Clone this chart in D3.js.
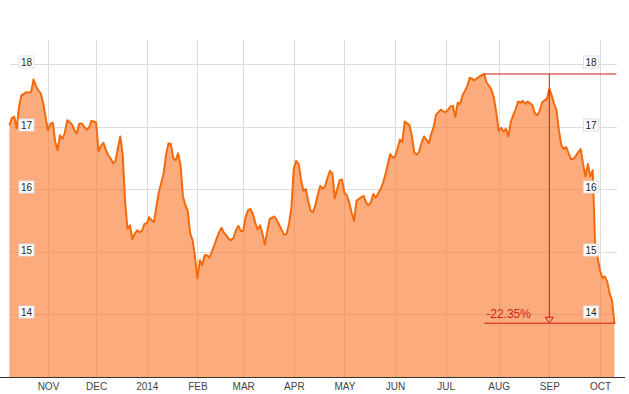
<!DOCTYPE html>
<html>
<head>
<meta charset="utf-8">
<script src="https://cdn.jsdelivr.net/npm/d3@7"></script>
<style>
  body { margin: 0; background: #fff; }
  text { font-family: Arial, "Liberation Sans", sans-serif; }
</style>
</head>
<body>
<div id="chart"></div>
<script>
/* DATA */
// one close per trading day, starting 2013-10-10
const startDate = "2013-10-10";
const holidays = ["2013-11-28", "2013-12-25", "2014-01-01", "2014-01-20", "2014-02-17",
  "2014-04-18", "2014-05-26", "2014-07-04", "2014-09-01"];
const closes = [
  17.02, 17.13, 17.16, 16.97, 17.32, 17.50, 17.52, 17.55, 17.54, 17.55, 17.75, 17.65,
  17.58, 17.53, 17.38, 17.15, 16.94, 17.04, 17.06, 16.76, 16.62, 16.86, 16.80, 16.90,
  17.10, 17.07, 17.03, 16.94, 16.89, 17.05, 17.05, 17.00, 16.95, 16.98, 17.09, 17.08,
  17.06, 16.60, 16.69, 16.74, 16.63, 16.54, 16.49, 16.41, 16.45, 16.65, 16.84, 16.55,
  15.80, 15.36, 15.42, 15.20, 15.28, 15.34, 15.31, 15.33, 15.44, 15.45, 15.55, 15.50,
  15.47, 15.72, 15.95, 16.10, 16.25, 16.55, 16.73, 16.72, 16.49, 16.46, 16.57, 16.38,
  15.88, 15.74, 15.65, 15.29, 15.18, 14.92, 14.57, 14.86, 14.78, 14.94, 14.94, 14.90,
  15.00, 15.10, 15.21, 15.31, 15.38, 15.30, 15.26, 15.20, 15.18, 15.22, 15.34, 15.41,
  15.33, 15.33, 15.55, 15.66, 15.68, 15.60, 15.46, 15.35, 15.42, 15.28, 15.11, 15.33,
  15.52, 15.54, 15.56, 15.50, 15.42, 15.34, 15.27, 15.28, 15.44, 15.70, 16.33, 16.45,
  16.40, 16.15, 15.97, 16.00, 15.80, 15.65, 15.63, 15.75, 15.92, 16.05, 16.00, 16.05,
  16.18, 16.29, 16.25, 15.85, 16.00, 16.14, 16.15, 15.94, 15.90, 15.78, 15.62, 15.49,
  15.81, 15.84, 15.87, 15.89, 15.78, 15.74, 15.79, 15.92, 15.86, 15.93, 16.00, 16.10,
  16.23, 16.40, 16.56, 16.50, 16.52, 16.64, 16.79, 16.75, 17.08, 17.05, 17.02, 16.84,
  16.58, 16.55, 16.60, 16.74, 16.84, 16.79, 16.73, 16.88, 16.99, 17.19, 17.23, 17.27,
  17.24, 17.23, 17.27, 17.32, 17.33, 17.15, 17.38, 17.36, 17.50, 17.57, 17.65, 17.78,
  17.76, 17.74, 17.77, 17.80, 17.82, 17.84, 17.70, 17.65, 17.59, 17.46, 17.22, 16.93,
  16.98, 16.92, 16.96, 16.84, 17.07, 17.18, 17.27, 17.40, 17.38, 17.41, 17.36, 17.40,
  17.37, 17.34, 17.21, 17.18, 17.25, 17.38, 17.42, 17.44, 17.60, 17.50, 17.36, 17.26,
  16.93, 16.70, 16.64, 16.67, 16.57, 16.48, 16.48, 16.53, 16.59, 16.64, 16.40, 16.20,
  16.40, 16.20, 16.30, 15.12, 14.92, 14.70, 14.58, 14.60, 14.52, 14.33, 14.22, 13.853
];
const yTicks = [14, 15, 16, 17, 18];

/* CONSTANTS */
const width = 629, height = 394,
  axisY = 377;

// build the trading day dates
const parse = d3.timeParse("%Y-%m-%d"), fmt = d3.timeFormat("%Y-%m-%d");
const dates = [];
let day = parse(startDate);
while (dates.length < closes.length) {
  const wd = day.getDay();
  if (wd !== 0 && wd !== 6 && !holidays.includes(fmt(day))) dates.push(day);
  day = d3.timeDay.offset(day, 1);
}
const data = closes.map((v, i) => ({i: i, date: dates[i], v: v}));
const monthStarts = data.filter((d, i) => i > 0 && d.date.getMonth() !== data[i - 1].date.getMonth());
const monthLabel = d => d.getMonth() === 0 ? d3.timeFormat("%Y")(d) : d3.timeFormat("%b")(d).toUpperCase();

/* SCALES */
const xScale = d3.scaleLinear()
  .domain([0, closes.length - 1])
  .range([9.4, 614.4]);

const yScale = d3.scaleLinear()
  .domain([14, 18])
  .range([314, 64]);

/* SVG */
const svg = d3.select("#chart")
  .append("svg")
  .attr("width", width)
  .attr("height", height);

// grid
svg.append("g")
  .selectAll("line")
  .data(monthStarts)
  .join("line")
  .attr("x1", d => Math.round(xScale(d.i)) + 0.5)
  .attr("x2", d => Math.round(xScale(d.i)) + 0.5)
  .attr("y1", 40)
  .attr("y2", axisY)
  .attr("stroke", "#dcdcdc");

svg.append("g")
  .selectAll("line")
  .data(yTicks)
  .join("line")
  .attr("x1", 10)
  .attr("x2", 617)
  .attr("y1", d => Math.round(yScale(d)) + 0.5)
  .attr("y2", d => Math.round(yScale(d)) + 0.5)
  .attr("stroke", "#dcdcdc");

// area + line
const area = d3.area()
  .x(d => xScale(d.i))
  .y0(axisY)
  .y1(d => yScale(d.v));

const line = d3.line()
  .x(d => xScale(d.i))
  .y(d => yScale(d.v));

svg.append("path")
  .datum(data)
  .attr("d", area)
  .attr("fill", "#fa7525")
  .attr("fill-opacity", 0.6);

svg.append("path")
  .datum(data)
  .attr("d", line)
  .attr("fill", "none")
  .attr("stroke", "#f26a0c")
  .attr("stroke-width", 2)
  .attr("stroke-linejoin", "round");

// drawdown annotation
const peakI = d3.maxIndex(closes), lastI = closes.length - 1;
const xPeak = xScale(peakI), xLast = xScale(lastI);
const yPeak = yScale(closes[peakI]), yLast = yScale(closes[lastI]);
const xMid = (xPeak + xLast) / 2;
const red = "#d61a1a";
const ann = svg.append("g").attr("stroke", red).attr("fill", "none");
ann.append("line").attr("x1", xPeak).attr("x2", xLast + 2).attr("y1", yPeak).attr("y2", yPeak);
ann.append("line").attr("x1", xPeak).attr("x2", xLast + 1).attr("y1", yLast).attr("y2", yLast);
ann.append("line").attr("x1", xMid).attr("x2", xMid).attr("y1", yPeak).attr("y2", yLast - 6);
ann.append("path")
  .attr("d", `M${xMid - 4},${yLast - 6}L${xMid + 4},${yLast - 6}L${xMid},${yLast}Z`);

const pct = ((closes[lastI] / closes[peakI] - 1) * 100).toFixed(2) + "%";
svg.append("text")
  .attr("x", xPeak + 2)
  .attr("y", yLast - 5)
  .attr("fill", red)
  .attr("font-size", 12)
  .text(pct);

// y labels on both sides
[26.5, 591].forEach(cx => {
  const g = svg.append("g")
    .selectAll("g")
    .data(yTicks)
    .join("g")
    .attr("transform", d => `translate(${cx},${Math.round(yScale(d)) - 2})`);
  g.append("rect")
    .attr("x", -7.5).attr("y", -6)
    .attr("width", 15).attr("height", 12)
    .attr("fill", "#fff")
    .attr("stroke", "#e0e0e0");
  g.append("text")
    .attr("text-anchor", "middle")
    .attr("dy", "0.35em")
    .attr("font-size", 10)
    .attr("fill", "#222")
    .text(d => d);
});

// x axis
const xAxis = d3.axisBottom(xScale)
  .tickValues(monthStarts.map(d => d.i))
  .tickFormat(i => monthLabel(data[i].date))
  .tickSize(0)
  .tickPadding(6);

const gx = svg.append("g")
  .attr("transform", `translate(0,${axisY})`)
  .call(xAxis);
gx.select(".domain").remove();
gx.selectAll("text")
  .attr("font-family", "Arial, 'Liberation Sans', sans-serif")
  .attr("font-size", 10)
  .attr("fill", "#444");

svg.append("line")
  .attr("x1", 0).attr("x2", 625)
  .attr("y1", axisY + 0.5).attr("y2", axisY + 0.5)
  .attr("stroke", "#333");
</script>
</body>
</html>
